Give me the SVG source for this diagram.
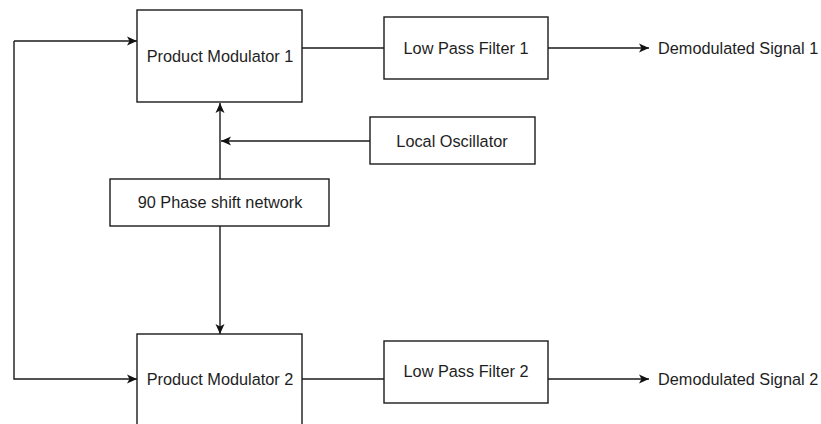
<svg xmlns="http://www.w3.org/2000/svg" width="821" height="424" viewBox="0 0 821 424">
<style>
.box{fill:#fff;stroke:#1a1a1a;stroke-width:1.4}
.lbl{font-family:"Liberation Sans",Arial,sans-serif;font-size:16.3px;fill:#1e1e1e;text-anchor:middle}
.out{font-family:"Liberation Sans",Arial,sans-serif;font-size:16.3px;fill:#1e1e1e}
.wire{fill:none;stroke:#1a1a1a;stroke-width:1.4}
</style>
<defs>
<marker id="arr" viewBox="0 0 10 10" refX="10" refY="5" markerWidth="10" markerHeight="10" markerUnits="userSpaceOnUse" orient="auto">
<path d="M0,0.5 L10,5 L0,9.5 L2.5,5 Z" fill="#111"/>
</marker>
</defs>
<rect width="821" height="424" fill="#fff"/>
<g id="connectors">
<path class="wire" d="M14,41 V379 H137" marker-end="url(#arr)"/>
<path class="wire" d="M14,41 H137" marker-end="url(#arr)"/>
<path class="wire" d="M302,48 H384"/>
<path class="wire" d="M548,48 H649" marker-end="url(#arr)"/>
<path class="wire" d="M370,141 H221" marker-end="url(#arr)"/>
<path class="wire" d="M220,179 V103" marker-end="url(#arr)"/>
<path class="wire" d="M220,226 V334" marker-end="url(#arr)"/>
<path class="wire" d="M302,379 H384"/>
<path class="wire" d="M548,379 H649" marker-end="url(#arr)"/>
</g>
<g id="pm1"><rect class="box" x="137" y="10" width="165" height="92"/><text class="lbl" x="220" y="62">Product Modulator 1</text></g>
<g id="lpf1"><rect class="box" x="384" y="17" width="164" height="62"/><text class="lbl" x="466" y="54">Low Pass Filter 1</text></g>
<g id="demod1"><text class="out" x="658" y="54">Demodulated Signal 1</text></g>
<g id="lo"><rect class="box" x="370" y="117" width="165" height="47"/><text class="lbl" x="452" y="147">Local Oscillator</text></g>
<g id="phase"><rect class="box" x="110" y="179" width="219" height="47"/><text class="lbl" x="220" y="208">90 Phase shift network</text></g>
<g id="pm2"><rect class="box" x="137" y="334" width="165" height="96"/><text class="lbl" x="220" y="385">Product Modulator 2</text></g>
<g id="lpf2"><rect class="box" x="384" y="341" width="164" height="62"/><text class="lbl" x="466" y="377">Low Pass Filter 2</text></g>
<g id="demod2"><text class="out" x="658" y="385">Demodulated Signal 2</text></g>
</svg>
